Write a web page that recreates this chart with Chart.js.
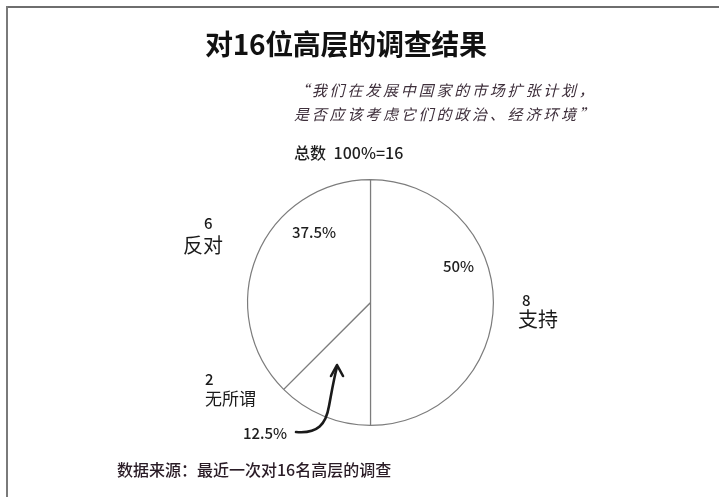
<!DOCTYPE html>
<html>
<head>
<meta charset="utf-8">
<script src="https://cdn.jsdelivr.net/npm/chart.js@4"></script>
<style>
  html, body { margin: 0; padding: 0; background: #fff; }
  body { width: 719px; height: 497px; position: relative; overflow: hidden;
         font-family: "Noto Sans CJK SC", "Noto Sans", sans-serif; color: #1a1a1a; }
  #pie { position: absolute; left: 0; top: 0; }
  .frame-top  { position: absolute; left: 6px; top: 6px; width: 713px; height: 2px; background: #6e6e6e; }
  .frame-left { position: absolute; left: 6px; top: 6px; width: 2px; height: 491px; background: #7a7a7a; }
  .t { position: absolute; white-space: nowrap; line-height: 1; }
  #title { left: 205px; top: 29px; font-size: 28px; font-weight: 700; color: #111; letter-spacing: -0.3px; }
  .quote { left: 294px; font-size: 15px; font-style: italic; color: #3e2f3b; letter-spacing: 2.8px; }
  #q1 { top: 82px; }
  #q2 { top: 106px; }
  #total { left: 294px; top: 144px; font-size: 16px; color: #1e1e1e; font-weight: 500; word-spacing: 4px; }
  #source { left: 117px; top: 461px; font-size: 16px; color: #2a1c26; font-weight: 500; }
  .cnt { font-size: 15px; font-weight: 500; }
  .name { font-size: 20px; }
  .pct { font-size: 15px; color: #1e1e1e; font-weight: 500; }
</style>
</head>
<body>
<div class="frame-top"></div>
<div class="frame-left"></div>
<canvas id="pie" width="719" height="497"></canvas>

<div class="t" id="title">对16位高层的调查结果</div>
<div class="t quote" id="q1">“我们在发展中国家的市场扩张计划，</div>
<div class="t quote" id="q2">是否应该考虑它们的政治、经济环境”</div>
<div class="t" id="total"></div>
<div class="t" id="source">数据来源：最近一次对16名高层的调查</div>

<script>
// survey answers, clockwise from 12 o'clock
const answers = ['支持', '无所谓', '反对'];
const counts  = [8, 2, 6];

const total = counts.reduce((a, b) => a + b, 0);
const pctText = v => (Math.round(v / total * 1000) / 10) + '%';

document.getElementById('total').textContent = '总数 100%=' + total;

// where each answer's count, name and share sit around the pie
const labelPos = [
  { cx: 522, cy: 292, nx: 518, ny: 309, ns: 20, px: 443, py: 258 },
  { cx: 205, cy: 371, nx: 205, ny: 389, ns: 17, px: 243, py: 425 },
  { cx: 204, cy: 215, nx: 183, ny: 235, ns: 20, px: 292, py: 224 }
];

answers.forEach((name, i) => {
  const p = labelPos[i];
  const c = document.createElement('div');
  c.className = 't cnt';
  c.style.left = p.cx + 'px'; c.style.top = p.cy + 'px';
  c.textContent = counts[i];
  const n = document.createElement('div');
  n.className = 't name';
  n.style.left = p.nx + 'px'; n.style.top = p.ny + 'px';
  n.style.fontSize = p.ns + 'px';
  n.textContent = name;
  const q = document.createElement('div');
  q.className = 't pct';
  q.style.left = p.px + 'px'; q.style.top = p.py + 'px';
  q.textContent = pctText(counts[i]);
  document.body.append(c, n, q);
});

// curved pointer from the small-slice label up into its slice
const pointerArrow = {
  id: 'pointerArrow',
  afterDraw(chart) {
    const ctx = chart.ctx;
    ctx.save();
    ctx.strokeStyle = '#1a1a1a';
    ctx.lineWidth = 2.6;
    ctx.lineCap = 'round';
    ctx.lineJoin = 'round';
    ctx.beginPath();
    ctx.moveTo(296, 432);
    ctx.bezierCurveTo(318, 434, 326, 424, 329, 406);
    ctx.bezierCurveTo(332, 390, 334, 378, 337, 367);
    ctx.stroke();
    ctx.beginPath();
    ctx.moveTo(331, 376);
    ctx.lineTo(337, 365);
    ctx.lineTo(343, 376);
    ctx.stroke();
    ctx.restore();
  }
};

new Chart(document.getElementById('pie'), {
  type: 'pie',
  data: {
    labels: answers,
    datasets: [{
      data: counts,
      backgroundColor: '#ffffff',
      borderColor: '#7c7c7c',
      borderWidth: 1.2,
      hoverOffset: 0
    }]
  },
  options: {
    responsive: false,
    animation: false,
    layout: { padding: { left: 247, right: 225, top: 179, bottom: 71 } },
    plugins: {
      legend: { display: false },
      tooltip: { enabled: false }
    }
  },
  plugins: [pointerArrow]
});
</script>
</body>
</html>
